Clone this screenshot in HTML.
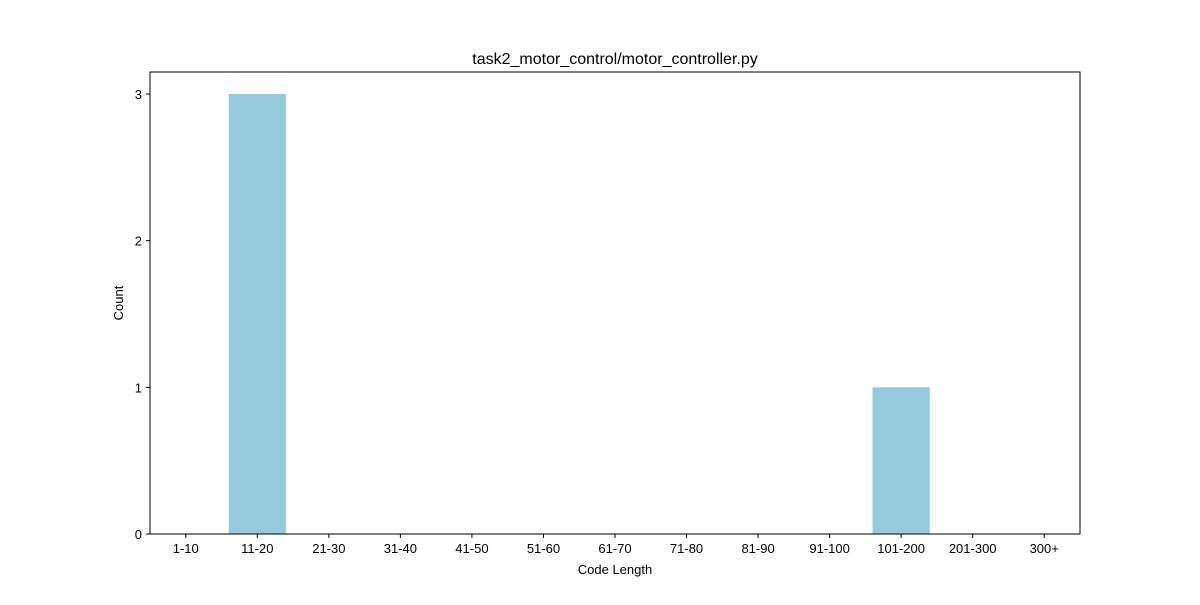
<!DOCTYPE html>
<html><head><meta charset="utf-8"><style>
body{margin:0;background:#fff;font-family:"Liberation Sans","DejaVu Sans",sans-serif;}
</style></head><body>
<svg id="chart" width="1200" height="600" xmlns="http://www.w3.org/2000/svg">
<rect width="1200" height="600" fill="#fff"/>
<text x="615" y="64" text-anchor="middle" font-size="16">task2_motor_control/motor_controller.py</text>
<g id="bars"></g>
<g id="xticks"></g>
<g id="yticks"></g>
<rect x="150" y="72" width="930" height="462" fill="none" stroke="#000" stroke-width="1"/>
<text x="615" y="574" text-anchor="middle" font-size="13">Code Length</text>
<text transform="translate(123,303) rotate(-90)" text-anchor="middle" font-size="13">Count</text>
</svg>
<script>
const categories=["1-10","11-20","21-30","31-40","41-50","51-60","61-70","71-80","81-90","91-100","101-200","201-300","300+"];
const counts=[0,3,0,0,0,0,0,0,0,0,1,0,0];
const yTickValues=[0,1,2,3];
const NS="http://www.w3.org/2000/svg";
const L=150,R=1080,T=72,B=534;
const xMin=-0.5,xMax=categories.length-0.5,yMin=0,yMax=Math.max(...counts)*1.05;
const xs=v=>L+(v-xMin)/(xMax-xMin)*(R-L);
const ys=v=>B-(v-yMin)/(yMax-yMin)*(B-T);
function mk(t,a){const e=document.createElementNS(NS,t);for(const k in a)e.setAttribute(k,a[k]);return e;}
const bg=document.getElementById('bars'),xg=document.getElementById('xticks'),yg=document.getElementById('yticks');
categories.forEach((c,i)=>{
  const x0=xs(i-0.4),x1=xs(i+0.4);
  const r=mk('rect',{x:x0,y:ys(counts[i]),width:x1-x0,height:ys(0)-ys(counts[i]),fill:'#96c9dc'});
  
  
  bg.appendChild(r);
  const tk=mk('line',{x1:xs(i),x2:xs(i),y1:B,y2:B+4,stroke:'#000'});
  
  
  xg.appendChild(tk);
  const t=mk('text',{x:xs(i),y:B+19,'text-anchor':'middle','font-size':'13'});
  t.textContent=c;
  
  
  xg.appendChild(t);
});
yTickValues.forEach(v=>{
  const tk=mk('line',{x1:L-4,x2:L,y1:ys(v),y2:ys(v),stroke:'#000'});
  
  
  yg.appendChild(tk);
  const t=mk('text',{x:L-8,y:ys(v)+5,'text-anchor':'end','font-size':'13'});
  t.textContent=v;
  
  
  yg.appendChild(t);
});
</script>
</body></html>
